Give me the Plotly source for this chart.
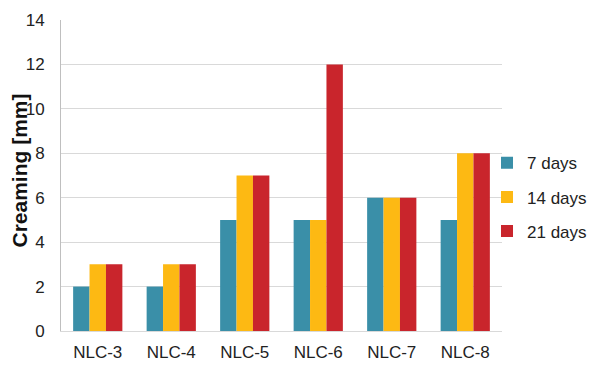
import plotly.graph_objects as go

categories = ["NLC-3", "NLC-4", "NLC-5", "NLC-6", "NLC-7", "NLC-8"]
days7 = [2, 2, 5, 5, 6, 5]
days14 = [3, 3, 7, 5, 6, 8]
days21 = [3, 3, 7, 12, 6, 8]
series_names = ["7 days", "14 days", "21 days"]
colors = ["#3A8FA8", "#FDB913", "#C9252C"]
y_title = "Creaming [mm]"

fig = go.Figure()
for i, (name, vals) in enumerate(zip(series_names, [days7, days14, days21])):
    fig.add_trace(go.Bar(x=categories, y=vals, name=name, marker_color=colors[i],
                         marker_line_width=0, legendgroup=name))

fig.update_layout(
    width=592, height=359,
    margin=dict(l=53, r=98, t=12, b=36, autoexpand=False),
    plot_bgcolor="white", paper_bgcolor="white",
    barmode="group", bargap=0.33, bargroupgap=0,
    font=dict(family="Liberation Sans, Arial, sans-serif", size=17, color="#222222"),
    legend=dict(x=0.966, y=0.43, xanchor="left", yanchor="middle",
                font=dict(size=17), tracegroupgap=9, itemwidth=30,
                bgcolor="rgba(0,0,0,0)"),
    showlegend=True,
)
fig.add_annotation(text="<b>" + y_title + "</b>", xref="paper", yref="paper",
                   x=0, y=0.5, xanchor="center", yanchor="middle", textangle=-90,
                   xshift=-42, yshift=5, showarrow=False, borderpad=0,
                   font=dict(size=21, color="#111111"))
fig.update_yaxes(range=[0, 14], dtick=2, showgrid=True, gridcolor="#D9D9D9", gridwidth=1,
                 showline=True, linecolor="#BFBFBF", zeroline=False,
                 ticks="outside", ticklen=12, tickcolor="rgba(0,0,0,0)")
fig.update_xaxes(showline=True, linecolor="#D9D9D9", ticks="outside", ticklen=6,
                 tickcolor="rgba(0,0,0,0)", showgrid=False)

fig.write_html("out.html")
